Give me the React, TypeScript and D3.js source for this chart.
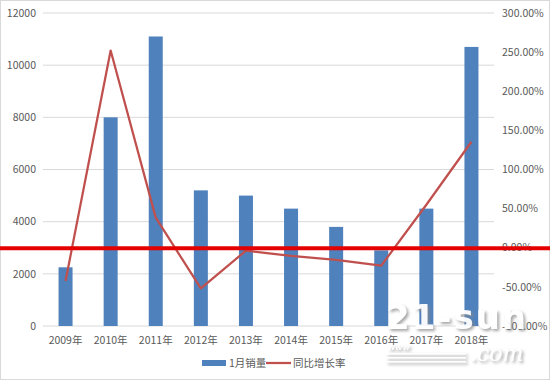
import React from "react";
import * as d3 from "d3";

const years = ["2009年", "2010年", "2011年", "2012年", "2013年", "2014年", "2015年", "2016年", "2017年", "2018年"];
const sales = [2250, 8000, 11100, 5200, 5000, 4500, 3800, 2900, 4500, 10700];
const growth = [-42.5, 252, 38.5, -52, -3.7, -10.5, -15.6, -22.9, 55, 135.5];
const leftTicks = [0, 2000, 4000, 6000, 8000, 10000, 12000];
const rightTicks = [-100, -50, 0, 50, 100, 150, 200, 250, 300];
const legendLabels = ["1月销量", "同比增长率"];

const W = 550;
const H = 381;
const FONT = "'Noto Sans CJK SC', 'Microsoft YaHei', sans-serif";

export default function App() {
  const x = d3.scaleBand<string>().domain(years).range([43, 494]).paddingInner(0).paddingOuter(0);
  const yL = d3.scaleLinear().domain([0, 12000]).range([326, 13]);
  const yR = d3.scaleLinear().domain([-100, 300]).range([326, 13]);
  const barW = 14;
  const line = d3
    .line<number>()
    .x((_, i) => (x(years[i]) as number) + x.bandwidth() / 2)
    .y((d) => yR(d));

  return (
    <svg width={W} height={H} style={{ position: "absolute", left: 0, top: 0 }} fontFamily={FONT}>
      <defs>
        <filter id="wm" x="-10%" y="-20%" width="130%" height="150%">
          <feDropShadow dx="2" dy="2" stdDeviation="1.5" floodColor="#888" floodOpacity="0.8" />
        </filter>
      </defs>
      <rect x={0.5} y={0.5} width={W - 1} height={H - 2} fill="#fff" stroke="#d9d9d9" />
      {leftTicks.map((t) => (
        <g key={"g" + t}>
          <line x1={43} x2={494} y1={yL(t)} y2={yL(t)} stroke="#d9d9d9" strokeWidth={1} />
          <text x={36} y={yL(t)} dy="0.35em" textAnchor="end" fontSize={10.5} fill="#595959">
            {t}
          </text>
        </g>
      ))}
      {rightTicks.map((t) => (
        <text key={"r" + t} x={502} y={yR(t)} dy="0.35em" textAnchor="start" fontSize={10.5} fill="#595959">
          {t.toFixed(2) + "%"}
        </text>
      ))}
      {sales.map((v, i) => (
        <rect
          key={"b" + i}
          x={(x(years[i]) as number) + x.bandwidth() / 2 - barW / 2}
          y={yL(v)}
          width={barW}
          height={yL(0) - yL(v)}
          fill="#4f81bd"
        />
      ))}
      {years.map((y) => (
        <text key={"x" + y} x={(x(y) as number) + x.bandwidth() / 2} y={344} textAnchor="middle" fontSize={10.5} fill="#595959">
          {y}
        </text>
      ))}
      <path d={line(growth) as string} fill="none" stroke="#c0504d" strokeWidth={2.25} strokeLinejoin="round" />
      <line x1={0} x2={W} y1={yR(0) + 0.5} y2={yR(0) + 0.5} stroke="#e50000" strokeWidth={4} />
      {/* legend */}
      <rect x={202} y={360} width={24} height={6} fill="#4f81bd" />
      <text x={229} y={363} dy="0.35em" fontSize={10.5} fill="#595959">
        {legendLabels[0]}
      </text>
      <line x1={266} x2={291} y1={363} y2={363} stroke="#c0504d" strokeWidth={2.25} />
      <text x={293} y={363} dy="0.35em" fontSize={10.5} fill="#595959">
        {legendLabels[1]}
      </text>
      {/* watermark */}
      <g filter="url(#wm)" fill="#fff" opacity={0.95}>
        <text x={386} y={329} fontSize={34} fontWeight="bold" fontFamily="'DejaVu Sans', sans-serif" letterSpacing={2}>
          21-sun
        </text>
        <text x={470} y={361} fontSize={22} fontStyle="italic" fontFamily="'DejaVu Serif', serif">
          .com
        </text>
        <text x={388} y={350} fontSize={9} fontStyle="italic" fontFamily="'DejaVu Sans', sans-serif">
          www
        </text>
        <rect x={386} y={353} width={80} height={1.5} />
        <rect x={386} y={357} width={80} height={1.5} />
        <rect x={386} y={361} width={80} height={1.5} />
      </g>
    </svg>
  );
}
